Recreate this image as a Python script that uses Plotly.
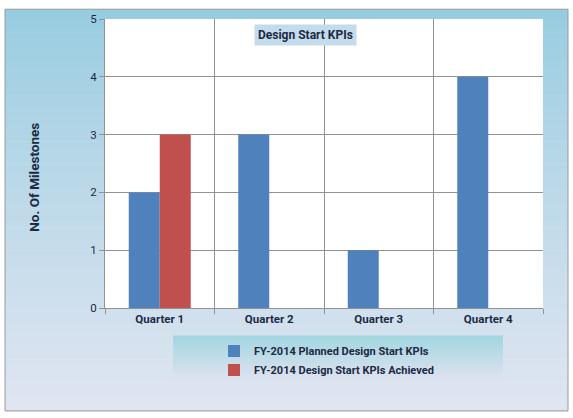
import plotly.graph_objects as go

# Chart data
quarters = ["Quarter 1", "Quarter 2", "Quarter 3", "Quarter 4"]
planned = [2, 3, 1, 4]
achieved = [3, 0, 0, 0]
series_names = ["FY-2014 Planned Design Start KPIs", "FY-2014 Design Start KPIs Achieved"]
y_ticks = [0, 1, 2, 3, 4, 5]

W, H = 573, 418
L, R, T, B = 105, 543, 13, 308
FONT = "Roboto, Open Sans, sans-serif"
TEXT = "#1c2a44"
GRID = "#929292"


def fx(px):
    # pixel x -> plot-area paper fraction
    return (px - L) / (R - L)


def fy(py):
    # pixel y -> plot-area paper fraction
    return 1 - (py - T) / (B - T)


def mix(c1, c2, t):
    a = [int(c1[i:i + 2], 16) for i in (1, 3, 5)]
    b = [int(c2[i:i + 2], 16) for i in (1, 3, 5)]
    return "#" + "".join(f"{round(a[k] + (b[k] - a[k]) * t):02x}" for k in range(3))


shapes = []
# Background gradient of the chart area (top light blue -> bottom pale lavender)
n = 70
x0, x1, y0, y1 = 5, 568, 3, 413
for i in range(n):
    t = i / (n - 1)
    ya = y0 + (y1 - y0) * i / n
    yb = y0 + (y1 - y0) * (i + 1) / n + 0.6
    shapes.append(dict(type="rect", xref="paper", yref="paper",
                       x0=fx(x0), x1=fx(x1), y0=fy(yb), y1=fy(ya),
                       fillcolor=mix("#96cce0", "#e0e5f1", t ** 0.85),
                       line=dict(width=0), layer="below"))
# White plotting area
shapes.append(dict(type="rect", xref="paper", yref="paper", x0=0, x1=1, y0=0, y1=1,
                   fillcolor="#ffffff", line=dict(width=0), layer="below"))
# Legend panel gradient
lx0, lx1, ly0, ly1 = 173, 503, 336, 379
m = 24
for i in range(m):
    t = i / (m - 1)
    ya = ly0 + (ly1 - ly0) * i / m
    yb = ly0 + (ly1 - ly0) * (i + 1) / m + 0.6
    shapes.append(dict(type="rect", xref="paper", yref="paper",
                       x0=fx(lx0), x1=fx(lx1), y0=fy(yb), y1=fy(ya),
                       fillcolor=mix("#a2d6e0", "#dbe2ef", t),
                       line=dict(width=0), layer="below"))
# Outer frame
shapes.append(dict(type="rect", xref="paper", yref="paper",
                   x0=fx(x0), x1=fx(x1), y0=fy(y1), y1=fy(y0),
                   line=dict(color="#9a9a9a", width=1), layer="below"))

fig = go.Figure()
fig.add_trace(go.Bar(x=quarters, y=planned, name="<b>" + series_names[0] + "</b>",
                     marker=dict(color="#4f81bd", line=dict(width=0))))
fig.add_trace(go.Bar(x=quarters, y=achieved, name="<b>" + series_names[1] + "</b>",
                     marker=dict(color="#c0504d", line=dict(width=0))))

fig.update_layout(
    width=W, height=H,
    margin=dict(l=L, r=W - R, t=T, b=H - B),
    paper_bgcolor="#ffffff",
    plot_bgcolor="rgba(0,0,0,0)",
    barmode="group", bargap=0.434, bargroupgap=0,
    font=dict(family=FONT, color=TEXT, size=11),
    shapes=shapes,
    showlegend=True,
    legend=dict(orientation="v", x=fx(214), xanchor="left",
                y=fy(337), yanchor="top", bgcolor="rgba(0,0,0,0)",
                font=dict(family=FONT, size=11, color=TEXT),
                itemwidth=30, tracegroupgap=0, itemclick=False),
    xaxis=dict(type="category", showgrid=True, gridcolor=GRID, gridwidth=1,
               tickson="boundaries", ticks="outside", ticklen=5, tickcolor=GRID,
               showline=True, linecolor=GRID, mirror=False,
               tickfont=dict(family=FONT, size=11.5, color=TEXT),
               tickprefix="<b>", ticksuffix="</b>", fixedrange=True),
    yaxis=dict(range=[0, 5], tickvals=y_ticks, showgrid=True, gridcolor=GRID,
               gridwidth=1, ticks="outside", ticklen=5, tickcolor=GRID,
               showline=True, linecolor=GRID, zeroline=False,
               tickfont=dict(family=FONT, size=11.5, color=TEXT),
               tickprefix="<b>", ticksuffix="</b>", fixedrange=True),
    annotations=[
        dict(text="<b>Design Start KPIs</b>", xref="paper", yref="paper",
             x=fx(305), y=fy(29),
             xanchor="center", yanchor="middle", showarrow=False,
             bgcolor="#c4dbeb", borderpad=3,
             font=dict(family=FONT, size=12, color=TEXT)),
        dict(text="<b>No. Of Milestones</b>", xref="paper", yref="paper",
             x=fx(34), y=fy(175),
             xanchor="center", yanchor="middle", showarrow=False, textangle=-90,
             font=dict(family=FONT, size=13.5, color=TEXT)),
    ],
)

fig.write_html("out.html")
